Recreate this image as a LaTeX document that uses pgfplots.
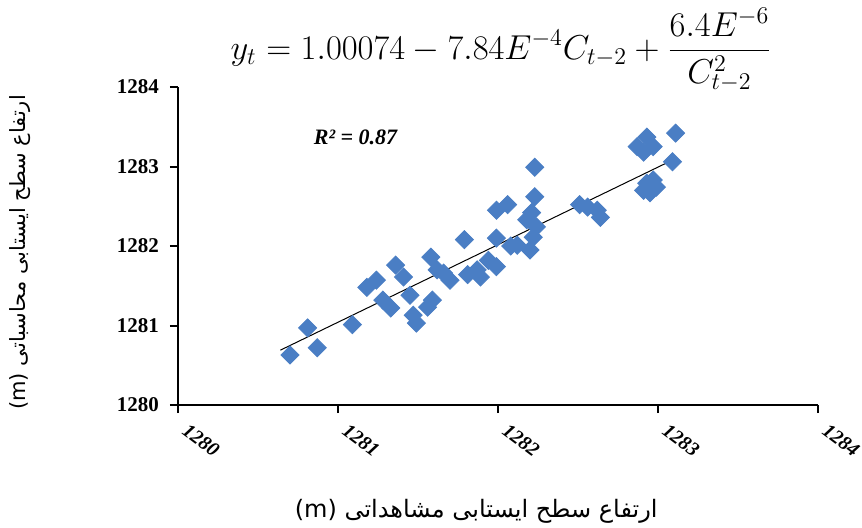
\documentclass[border=0pt]{standalone}
\usepackage{fontspec}
\setmainfont{Liberation Serif}
\newfontfamily\arabicfont[Script=Arabic]{DejaVu Sans}
\TeXXeTstate=1
\usepackage{pgfplots}
\pgfplotsset{compat=1.18}
\definecolor{ptblue}{RGB}{74,126,196}
\pgfplotstableread{
x y
1280.70 1280.63
1280.87 1280.72
1280.81 1280.97
1281.09 1281.01
1281.18 1281.48
1281.24 1281.57
1281.36 1281.76
1281.33 1281.22
1281.28 1281.32
1281.41 1281.61
1281.45 1281.38
1281.58 1281.86
1281.62 1281.70
1281.49 1281.03
1281.56 1281.23
1281.59 1281.32
1281.47 1281.13
1281.66 1281.66
1281.70 1281.57
1281.79 1282.08
1281.81 1281.64
1281.87 1281.70
1281.89 1281.61
1281.94 1281.82
1281.99 1281.74
1281.99 1282.10
1281.99 1282.45
1282.06 1282.52
1282.12 1282.01
1282.08 1282.00
1282.20 1281.95
1282.22 1282.11
1282.21 1282.42
1282.18 1282.33
1282.24 1282.24
1282.23 1282.62
1282.23 1282.99
1282.51 1282.52
1282.56 1282.49
1282.62 1282.45
1282.64 1282.36
1282.87 1283.25
1282.93 1283.37
1282.97 1283.25
1282.91 1283.18
1283.11 1283.42
1283.09 1283.06
1282.93 1282.79
1282.97 1282.83
1282.95 1282.67
1282.91 1282.70
1282.99 1282.74
}\obs
\begin{document}
\begin{tikzpicture}
\path[use as bounding box] (-89pt,-61pt) rectangle (342pt,202.5pt);
\begin{axis}[
  scale only axis, width=320pt, height=159pt,
  xmin=1280, xmax=1284, ymin=1280, ymax=1284,
  axis lines=left, axis line style={line width=1.2pt, -},
  xtick={1280,1281,1282,1283,1284},
  ytick={1280,1281,1282,1283,1284},
  /pgf/number format/assume math mode=true,
  /pgf/number format/set thousands separator={},
  yticklabel style={font=\bfseries\fontsize{10.5}{10.5}\selectfont, xshift=-2pt},
  xticklabel style={rotate=-37, anchor=center, xshift=17.5pt, yshift=-4pt, font=\bfseries\itshape\fontsize{10}{10}\selectfont},
  x tick style={line width=1pt, black},
  y tick style={line width=1pt, black},
  tick align=outside,
  major tick length=4pt,
  clip=false,
]
\addplot[only marks, mark=square*, mark size=3.2pt, mark options={rotate=45, fill=ptblue, draw=ptblue}] table[x=x,y=y] {\obs};
\addplot[black, line width=0.5pt, no marks] coordinates {(1280.64,1280.69) (1283.10,1283.09)};
\node[font=\bfseries\itshape\fontsize{11}{11}\selectfont] at (axis cs:1281.11,1283.37) {R² = 0.87};
\node[font=\fontsize{16.5}{18}\selectfont] at ([yshift=18.5pt]rel axis cs:0.505,1) {$\displaystyle y_t = 1.00074 - 7.84E^{-4}C_{t-2} + \frac{6.4E^{-6}}{C_{t-2}^{2}}$};
\node[font=\arabicfont\fontsize{12}{12}\selectfont] at ([yshift=-53pt]rel axis cs:0.466,0) {\beginR ارتفاع سطح ایستابی مشاهداتی \beginL(m)\endL\endR};
\node[font=\arabicfont\fontsize{10.5}{10.5}\selectfont, rotate=90] at ([xshift=-79pt]rel axis cs:0,0.48) {\beginR ارتفاع سطح ایستابی محاسباتی \beginL(m)\endL\endR};
\end{axis}
\end{tikzpicture}
\end{document}
